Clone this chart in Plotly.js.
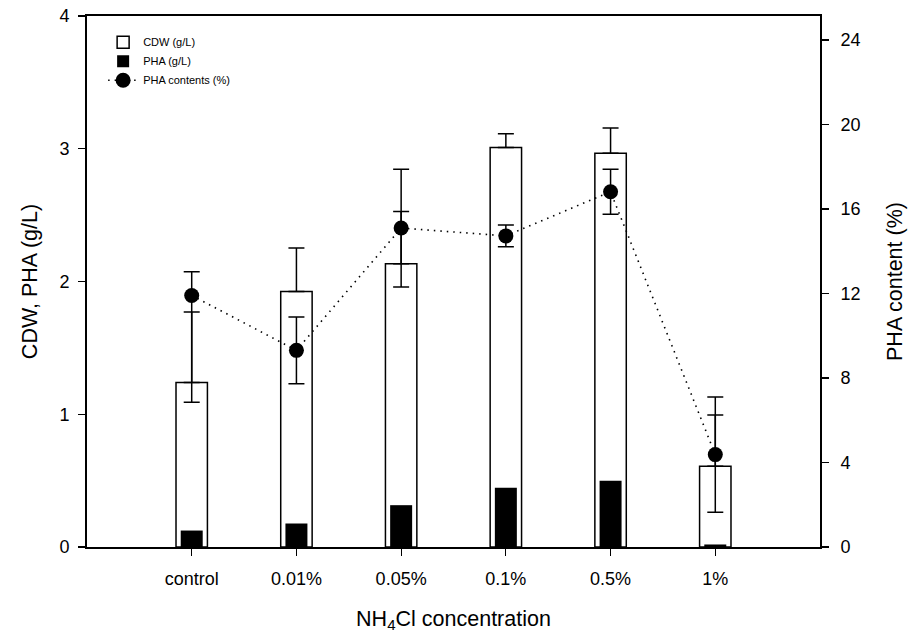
<!DOCTYPE html>
<html>
<head>
<meta charset="utf-8">
<script src="https://cdn.plot.ly/plotly-3.0.1.min.js"></script>
<style>html,body{margin:0;padding:0;background:#fff;}#chart{width:913px;height:639px;}</style>
</head>
<body>
<div id="chart"></div>
<script>
const categories = ["control", "0.01%", "0.05%", "0.1%", "0.5%", "1%"];
const cdw = [1.24, 1.925, 2.134, 3.009, 2.967, 0.608];
const cdwErrUp = [0.53, 0.327, 0.394, 0.104, 0.189, 0.387];
const pha = [0.124, 0.177, 0.315, 0.446, 0.50, 0.019];
const phaContent = [11.91, 9.31, 15.10, 14.73, 16.82, 4.375];
const phaContentErrUp = [1.12, 1.585, 2.79, 0.51, 1.07, 2.73];
const phaContentErrDown = [5.06, 1.585, 2.79, 0.51, 1.07, 2.73];
const leftTicks = [0, 1, 2, 3, 4];
const rightTicks = [0, 4, 8, 12, 16, 20, 24];

const FONT = "Liberation Sans, Arial, sans-serif";
const idx = categories.map((c, i) => i);

const traces = [
  {
    type: "bar", name: "CDW (g/L)", x: idx, y: cdw, width: 0.3,
    marker: {color: "#ffffff", line: {color: "#000", width: 1.5}},
    error_y: {type: "data", symmetric: false, array: cdwErrUp, arrayminus: cdw.map(() => 0),
              color: "#000", thickness: 1.5, width: 8},
    hoverinfo: "skip"
  },
  {
    type: "bar", name: "PHA (g/L)", x: idx, y: pha, width: 0.21,
    marker: {color: "#000000", line: {color: "#000", width: 0}},
    hoverinfo: "skip"
  },
  {
    type: "scatter", mode: "lines+markers", name: "PHA contents (%)", x: idx, y: phaContent,
    yaxis: "y2",
    line: {color: "#000", width: 1.6, dash: "1.5px,5px"},
    marker: {color: "#000", size: 15},
    error_y: {type: "data", symmetric: false, array: phaContentErrUp, arrayminus: phaContentErrDown,
              color: "#000", thickness: 1.5, width: 8},
    hoverinfo: "skip"
  }
];

const layout = {
  width: 913, height: 639,
  margin: {l: 87, r: 93, t: 16, b: 91.5},
  paper_bgcolor: "#fff", plot_bgcolor: "#fff",
  font: {family: FONT, color: "#000", size: 18},
  barmode: "overlay",
  showlegend: true,
  legend: {x: 0.022, y: 0.978, xanchor: "left", yanchor: "top", bgcolor: "rgba(0,0,0,0)",
           font: {family: FONT, size: 11}, tracegroupgap: 0, itemwidth: 30},
  xaxis: {
    range: [-1, 6], tickmode: "array", tickvals: idx, ticktext: categories,
    showline: true, linecolor: "#000", linewidth: 1.8, mirror: true,
    ticks: "outside", ticklen: 7, tickwidth: 1.2, tickcolor: "#000",
    ticklabelstandoff: 8,
    showgrid: false, zeroline: false,
    tickfont: {size: 18},
    title: {text: "NH<sub>4</sub>Cl concentration", font: {size: 21.5}, standoff: 22}
  },
  yaxis: {
    range: [0, 4], tickmode: "array", tickvals: leftTicks,
    showline: true, linecolor: "#000", linewidth: 1.8,
    ticks: "outside", ticklen: 7, tickwidth: 1.2, tickcolor: "#000",
    ticklabelstandoff: 5,
    showgrid: false, zeroline: false,
    tickfont: {size: 18},
    title: {text: "CDW, PHA (g/L)", font: {size: 21.5}, standoff: 16}
  },
  yaxis2: {
    overlaying: "y", side: "right",
    range: [0, 25.14], tickmode: "array", tickvals: rightTicks,
    showline: true, linecolor: "#000", linewidth: 1.8,
    ticks: "outside", ticklen: 7, tickwidth: 1.2, tickcolor: "#000",
    ticklabelstandoff: 8,
    showgrid: false, zeroline: false,
    tickfont: {size: 18},
    title: {text: "PHA content (%)", font: {size: 21.5}, standoff: 27}
  }
};

Plotly.newPlot("chart", traces, layout, {staticPlot: true, displayModeBar: false});
</script>
</body>
</html>
